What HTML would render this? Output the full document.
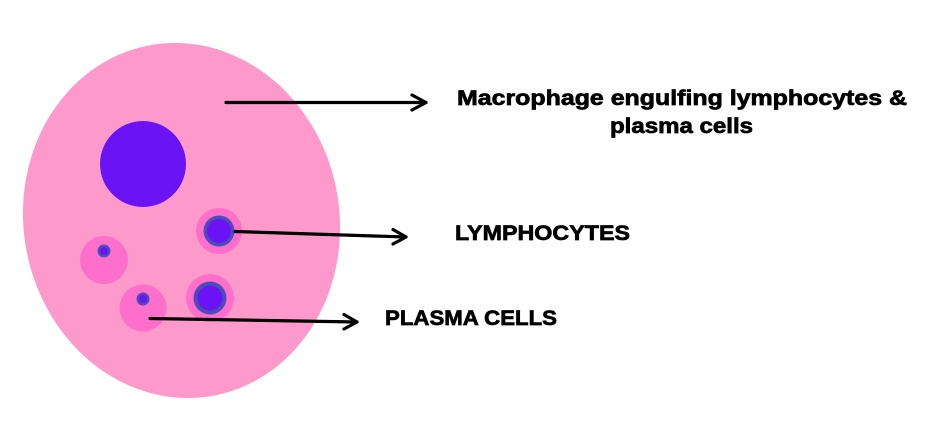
<!DOCTYPE html>
<html>
<head>
<meta charset="utf-8">
<style>
html,body{margin:0;padding:0;background:#fff;}
svg{display:block;}
text{font-family:"Liberation Sans",sans-serif;font-weight:bold;fill:#000;stroke:#000;stroke-width:0.7;}
</style>
</head>
<body>
<svg width="947" height="440" viewBox="0 0 947 440" xmlns="http://www.w3.org/2000/svg">
  <!-- macrophage body -->
  <g transform="translate(181.5,220.5) matrix(1,0.02,0.02,1,0,0)">
    <ellipse cx="0" cy="0" rx="158.5" ry="177.5" fill="#FE99CB"/>
  </g>
  <!-- large nucleus -->
  <circle cx="143" cy="164" r="43" fill="#6A14F6"/>

  <!-- plasma cells -->
  <circle cx="104" cy="260" r="24" fill="#FE6FCC"/>
  <circle cx="104" cy="251" r="6.5" fill="#4B4EB8"/>
  <circle cx="104" cy="251" r="4" fill="#6A14F6"/>

  <circle cx="143" cy="308" r="23.5" fill="#FE6FCC"/>
  <circle cx="143" cy="299" r="6.5" fill="#4B4EB8"/>
  <circle cx="143" cy="299" r="4" fill="#6A14F6"/>

  <!-- lymphocytes -->
  <circle cx="219" cy="231" r="23" fill="#FE6FCC"/>
  <circle cx="219" cy="231" r="15.5" fill="#4B4EB8"/>
  <circle cx="219" cy="231" r="12" fill="#6A14F6"/>

  <circle cx="210" cy="298" r="24" fill="#FE6FCC"/>
  <circle cx="210" cy="298" r="16.5" fill="#4B4EB8"/>
  <circle cx="210" cy="298" r="12.5" fill="#6A14F6"/>

  <!-- arrows -->
  <g stroke="#000" stroke-width="3.2" fill="none" stroke-linecap="round" stroke-linejoin="round">
    <line x1="226" y1="102.5" x2="426" y2="102.5"/>
    <polyline points="412,95 426,102.5 412,110"/>

    <line x1="235" y1="231.5" x2="406" y2="237"/>
    <polyline points="393,229.5 406,237 393,244"/>

    <line x1="150" y1="318.5" x2="357" y2="322"/>
    <polyline points="344,314.5 357,322 344,329"/>
  </g>

  <!-- labels -->
  <text x="457" y="105" font-size="21" textLength="450" lengthAdjust="spacingAndGlyphs">Macrophage engulfing lymphocytes &amp;</text>
  <text x="610" y="133" font-size="21" textLength="143" lengthAdjust="spacingAndGlyphs">plasma cells</text>
  <text x="455" y="240" font-size="21" textLength="175" lengthAdjust="spacingAndGlyphs">LYMPHOCYTES</text>
  <text x="385" y="325" font-size="21" textLength="172" lengthAdjust="spacingAndGlyphs">PLASMA CELLS</text>
</svg>
</body>
</html>
